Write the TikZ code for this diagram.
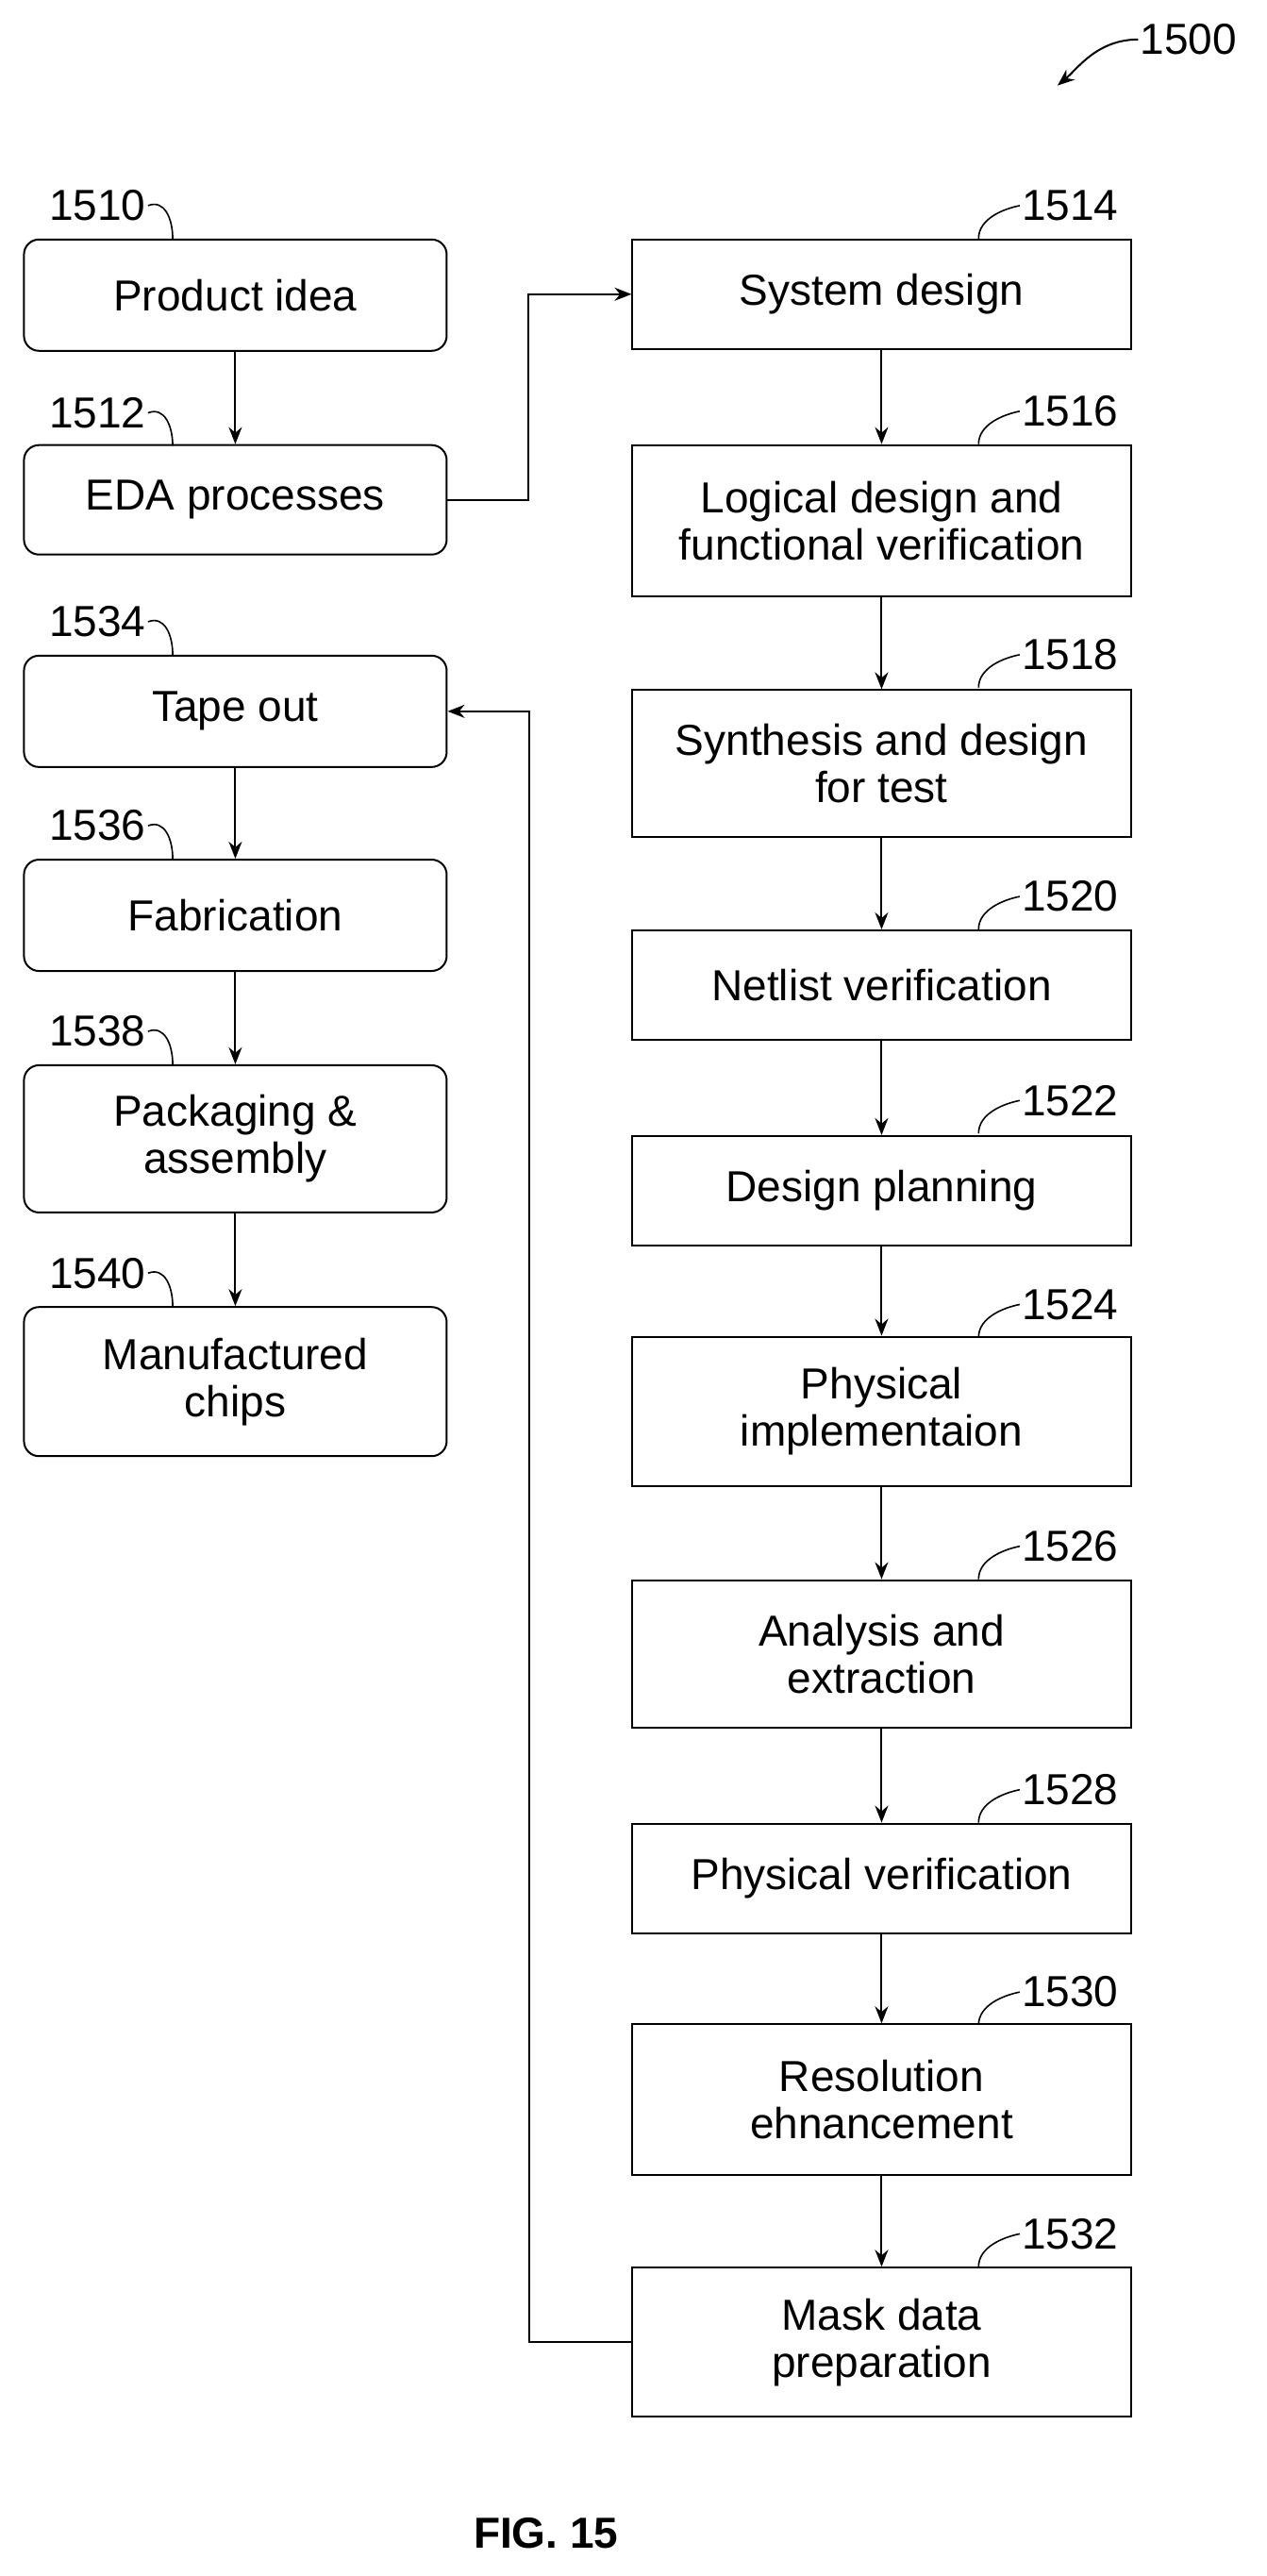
\documentclass[tikz,border=0pt]{standalone}
\usepackage{fontspec}
\setmainfont{Liberation Sans}
\usetikzlibrary{arrows.meta}
\begin{document}
\begin{tikzpicture}[x=0.8715pt,y=-0.8715pt]
\tikzstyle{StepStyle} = [draw, line width = 1pt, align = center, inner sep = 0pt, font = \fontsize{23}{25}\selectfont]
\tikzstyle{leftStyle} = [StepStyle, rounded corners = 8pt, minimum width = 224pt, anchor = north west]
\tikzstyle{rightStyle} = [StepStyle, minimum width = 264pt, anchor = north west]
\tikzstyle{RefStyle} = [font = \fontsize{23}{25}\selectfont, inner sep = 1pt]
\tikzstyle{EdgeStyle} = [line width = 1pt, -{Stealth[length=9pt,width=7pt]}]
\tikzstyle{LeadStyle} = [line width = 0.8pt]
\useasboundingbox (0,0) rectangle (770,1566);
% left column
\node[leftStyle, minimum height = 59pt] (v10) at (14,145) {Product idea};
\node[leftStyle, minimum height = 58pt] (v12) at (14,270) {EDA processes};
\node[leftStyle, minimum height = 59pt] (v34) at (14,398) {Tape out};
\node[leftStyle, minimum height = 59pt] (v36) at (14,522) {Fabrication};
\node[leftStyle, minimum height = 78pt] (v38) at (14,647) {Packaging \&\\assembly};
\node[leftStyle, minimum height = 79pt] (v40) at (14,794) {Manufactured\\chips};
% right column
\node[rightStyle, minimum height = 58pt] (v14) at (384,145) {System design};
\node[rightStyle, minimum height = 80pt] (v16) at (384,270) {Logical design and\\functional verification};
\node[rightStyle, minimum height = 78pt] (v18) at (384,419) {Synthesis and design\\for test};
\node[rightStyle, minimum height = 58pt] (v20) at (384,565) {Netlist verification};
\node[rightStyle, minimum height = 58pt] (v22) at (384,690) {Design planning};
\node[rightStyle, minimum height = 79pt] (v24) at (384,812) {Physical\\implementaion};
\node[rightStyle, minimum height = 78pt] (v26) at (384,960) {Analysis and\\extraction};
\node[rightStyle, minimum height = 58pt] (v28) at (384,1108) {Physical verification};
\node[rightStyle, minimum height = 80pt] (v30) at (384,1230) {Resolution\\ehnancement};
\node[rightStyle, minimum height = 79pt] (v32) at (384,1378) {Mask data\\preparation};
% reference numerals
\foreach \n/\y in {10/125, 12/251, 34/378, 36/502, 38/627, 40/774} {
  \node[RefStyle, anchor = east] (r\n) at (90,\y) {15\n};
  \draw[LeadStyle] (r\n.east) .. controls +(10,-4) and +(0,-12) .. (105,\y+20);
}
\foreach \n/\y in {14/125, 16/250, 18/398, 20/545, 22/669, 24/793, 26/940, 28/1088, 30/1211, 32/1358} {
  \node[RefStyle, anchor = west] (r\n) at (620,\y) {15\n};
  \draw[LeadStyle] (r\n.west) .. controls +(-10,2) and +(0,-12) .. (595,\y+20);
}
\node[RefStyle, anchor = west] (r00) at (692,24) {1500};
\coordinate (a00) at (643,52);
\draw[EdgeStyle] (r00.west) .. controls +(-25,0) and +(12,-10) .. (a00);
\node[font = \bfseries\fontsize{23}{25}\selectfont] (fig) at (332,1540) {FIG. 15};
% connectors
\draw[EdgeStyle] (v10) -- (v12);
\draw[EdgeStyle] (v34) -- (v36);
\draw[EdgeStyle] (v36) -- (v38);
\draw[EdgeStyle] (v38) -- (v40);
\draw[EdgeStyle] (v14) -- (v16);
\draw[EdgeStyle] (v16) -- (v18);
\draw[EdgeStyle] (v18) -- (v20);
\draw[EdgeStyle] (v20) -- (v22);
\draw[EdgeStyle] (v22) -- (v24);
\draw[EdgeStyle] (v24) -- (v26);
\draw[EdgeStyle] (v26) -- (v28);
\draw[EdgeStyle] (v28) -- (v30);
\draw[EdgeStyle] (v30) -- (v32);
\draw[EdgeStyle] (v12.east) -- ++(49,0) |- (v14.west);
\draw[EdgeStyle] (v32.west) -- ++(-62,0) |- (v34.east);
\end{tikzpicture}
\end{document}
